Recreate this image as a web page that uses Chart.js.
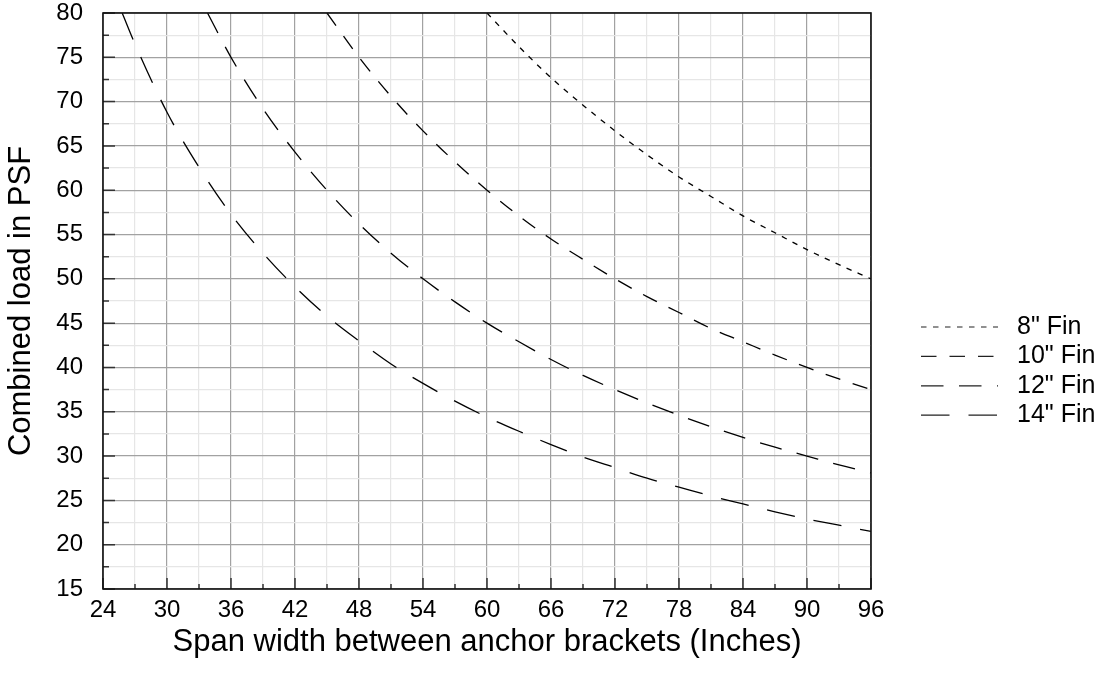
<!DOCTYPE html>
<html>
<head>
<meta charset="utf-8">
<script src="https://cdn.jsdelivr.net/npm/chart.js@4/dist/chart.umd.min.js"></script>
<style>
  html, body { margin: 0; padding: 0; background: #fff; }
  #wrap { width: 1105px; height: 675px; }
</style>
</head>
<body>
<div id="wrap"><canvas id="grafico"></canvas></div>
<script>
// valores (x = ancho del tramo, y = carga en PSF)
const fin8X = [60, 63, 66, 69, 72, 75, 78, 81, 84, 87, 90, 93, 96];
const fin8Y = [80, 76.2, 72.7, 69.6, 66.7, 64, 61.5, 59.3, 57.1, 55.2, 53.3, 51.6, 50];

const fin10X = [45, 48, 51, 54, 57, 60, 63, 66, 69, 72, 75, 78, 81, 84, 87, 90, 93, 96];
const fin10Y = [80, 75, 70.6, 66.7, 63.2, 60, 57.1, 54.5, 52.2, 50, 48, 46.2, 44.4, 42.9, 41.4, 40, 38.7, 37.5];

const fin12X = [33.8, 36, 39, 42, 45, 48, 51, 54, 57, 60, 63, 66, 69, 72, 75, 78, 81, 84, 87, 90, 93, 96];
const fin12Y = [80, 75, 69.2, 64.3, 60, 56.2, 52.9, 50, 47.4, 45, 42.9, 40.9, 39.1, 37.5, 36, 34.6, 33.3, 32.1, 31, 30, 29, 28.1];

const fin14X = [25.8, 27, 30, 33, 36, 39, 42, 45, 48, 51, 54, 57, 60, 63, 66, 69, 72, 75, 78, 81, 84, 87, 90, 93, 96];
const fin14Y = [80, 76.5, 68.8, 62.6, 57.3, 52.9, 49.1, 45.8, 43, 40.4, 38.2, 36.2, 34.4, 32.8, 31.3, 29.9, 28.7, 27.5, 26.5, 25.5, 24.6, 23.7, 22.9, 22.2, 21.5];

const etiquetas = ['8" Fin', '10" Fin', '12" Fin', '14" Fin'];
const guiones = [[5.5, 6.5], [15.5, 13], [22.5, 15.5], [28.5, 19]];

const xMin = 24, xMax = 96, xPaso = 3, xMayor = 6;
const yMin = 15, yMax = 80, yPaso = 2.5, yMayor = 5;

const fuente = '"Liberation Sans", Arial, sans-serif';

function puntos(xs, ys) {
    return xs.map((x, i) => ({ x: x, y: ys[i] }));
}

const series = [puntos(fin8X, fin8Y), puntos(fin10X, fin10Y), puntos(fin12X, fin12Y), puntos(fin14X, fin14Y)];

function esMayor(v, paso) {
    return Math.abs(v / paso - Math.round(v / paso)) < 1e-6;
}

// marcas hacia dentro, borde del area y leyenda
const marcasYLeyenda = {
    id: 'marcasYLeyenda',
    afterDraw(chart) {
        const ctx = chart.ctx;
        const a = chart.chartArea;
        const sx = chart.scales.x, sy = chart.scales.y;
        ctx.save();
        ctx.strokeStyle = '#333';
        ctx.lineWidth = 1.5;
        ctx.beginPath();
        for (let v = yMin; v <= yMax + 1e-6; v += yPaso) {
            const py = sy.getPixelForValue(v);
            const len = esMayor(v, yMayor) ? 12 : 6;
            ctx.moveTo(a.left, py);
            ctx.lineTo(a.left + len, py);
        }
        for (let v = xMin; v <= xMax + 1e-6; v += xPaso) {
            const px = sx.getPixelForValue(v);
            const len = esMayor(v, xMayor) ? 11 : 5;
            ctx.moveTo(px, a.bottom);
            ctx.lineTo(px, a.bottom - len);
        }
        ctx.stroke();

        ctx.strokeStyle = '#111';
        ctx.lineWidth = 1.6;
        ctx.strokeRect(a.left, a.top, a.right - a.left, a.bottom - a.top);

        // leyenda
        ctx.font = '25px ' + fuente;
        ctx.textBaseline = 'middle';
        ctx.fillStyle = '#000';
        chart.data.datasets.forEach((ds, i) => {
            const y = 327 + i * 29.4;
            ctx.setLineDash(ds.borderDash);
            ctx.strokeStyle = '#222';
            ctx.lineWidth = 1.2;
            ctx.beginPath();
            ctx.moveTo(921, y);
            ctx.lineTo(998, y);
            ctx.stroke();
            ctx.setLineDash([]);
            ctx.fillText(ds.label, 1017, y);
        });
        ctx.restore();
    }
};

new Chart(document.getElementById('grafico'), {
    type: 'line',
    data: {
        datasets: series.map((d, i) => ({
            label: etiquetas[i],
            data: d,
            borderColor: '#000',
            borderWidth: 1.3,
            borderDash: guiones[i],
            pointRadius: 0,
            fill: false,
            cubicInterpolationMode: 'monotone'
        }))
    },
    options: {
        responsive: true,
        maintainAspectRatio: false,
        animation: false,
        layout: { padding: { top: 13, right: 234, left: 0, bottom: 0 } },
        plugins: {
            legend: { display: false },
            tooltip: { enabled: false }
        },
        scales: {
            x: {
                type: 'linear',
                min: xMin,
                max: xMax,
                afterFit(scale) {
                    scale.height = 86;
                    scale.paddingLeft = 0;
                    scale.paddingRight = 0;
                },
                ticks: {
                    stepSize: xPaso,
                    autoSkip: false,
                    maxRotation: 0,
                    padding: 7,
                    color: '#000',
                    font: { family: fuente, size: 24 },
                    callback: (v) => esMayor(v, xMayor) ? v : ''
                },
                grid: {
                    drawTicks: false,
                    lineWidth: 1.2,
                    color: (c) => esMayor(c.tick.value, xMayor) ? '#a2a2a2' : '#e6e6e6'
                },
                border: { display: false },
                title: {
                    display: true,
                    text: 'Span width between anchor brackets (Inches)',
                    color: '#000',
                    font: { family: fuente, size: 31 },
                    padding: { top: 0, bottom: 14 }
                }
            },
            y: {
                type: 'linear',
                min: yMin,
                max: yMax,
                afterFit(scale) {
                    scale.width = 103;
                    scale.paddingTop = 0;
                    scale.paddingBottom = 0;
                },
                ticks: {
                    stepSize: yPaso,
                    autoSkip: false,
                    padding: 20,
                    color: '#000',
                    font: { family: fuente, size: 24 },
                    callback: (v) => esMayor(v, yMayor) ? v : ''
                },
                grid: {
                    drawTicks: false,
                    lineWidth: 1.2,
                    color: (c) => esMayor(c.tick.value, yMayor) ? '#a2a2a2' : '#e6e6e6'
                },
                border: { display: false },
                title: {
                    display: true,
                    text: 'Combined load in PSF',
                    color: '#000',
                    font: { family: fuente, size: 31 },
                    padding: { top: 3, bottom: 0 }
                }
            }
        }
    },
    plugins: [marcasYLeyenda]
});
</script>
</body>
</html>
